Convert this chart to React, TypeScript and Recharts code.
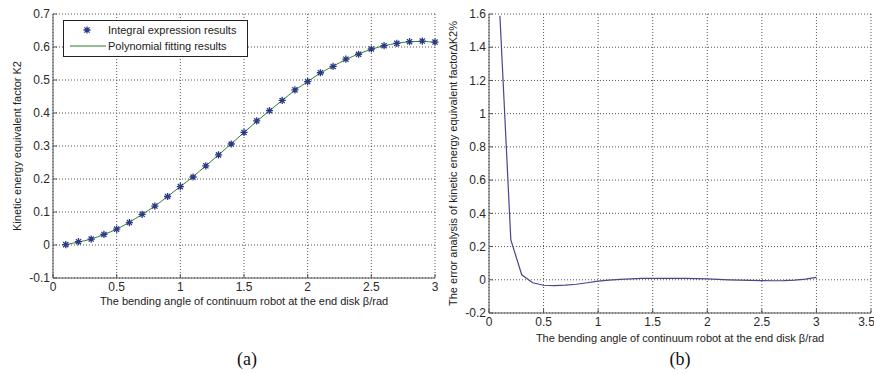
import { LineChart, Line, XAxis, YAxis, CartesianGrid, Legend } from 'recharts'

// bending angle samples (rad)
const beta = [
  0.1, 0.2, 0.3, 0.4, 0.5, 0.6, 0.7, 0.8, 0.9, 1.0,
  1.1, 1.2, 1.3, 1.4, 1.5, 1.6, 1.7, 1.8, 1.9, 2.0,
  2.1, 2.2, 2.3, 2.4, 2.5, 2.6, 2.7, 2.8, 2.9, 3.0,
]

// K2 from the integral expression
const k2Integral = [
  0.001, 0.01, 0.018, 0.032, 0.048, 0.068, 0.093, 0.118, 0.147, 0.177,
  0.206, 0.24, 0.273, 0.306, 0.341, 0.376, 0.407, 0.438, 0.47, 0.495,
  0.522, 0.541, 0.563, 0.578, 0.594, 0.604, 0.611, 0.616, 0.618, 0.615,
]

// K2 from the polynomial fit
const k2Fit = [
  0.001, 0.009, 0.018, 0.032, 0.048, 0.069, 0.093, 0.118, 0.147, 0.177,
  0.207, 0.24, 0.273, 0.307, 0.341, 0.375, 0.407, 0.438, 0.469, 0.495,
  0.521, 0.542, 0.562, 0.579, 0.593, 0.604, 0.611, 0.616, 0.617, 0.614,
]

// relative error of the fit, %
const k2Error = [
  1.59, 0.24, 0.03, -0.018, -0.033, -0.035, -0.032, -0.027, -0.018, -0.008,
  -0.002, 0.003, 0.006, 0.008, 0.009, 0.009, 0.009, 0.008, 0.007, 0.005,
  0.002, 0.0, -0.002, -0.004, -0.005, -0.006, -0.005, -0.002, 0.004, 0.015,
]

const xTicksA = [0, 0.5, 1, 1.5, 2, 2.5, 3]
const yTicksA = [-0.1, 0, 0.1, 0.2, 0.3, 0.4, 0.5, 0.6, 0.7]
const xTicksB = [0, 0.5, 1, 1.5, 2, 2.5, 3, 3.5]
const yTicksB = [-0.2, 0, 0.2, 0.4, 0.6, 0.8, 1, 1.2, 1.4, 1.6]

const xTitle = 'The bending angle of continuum robot at the end disk β/rad'
const yTitleA = 'Kinetic energy equivalent factor K2'
const yTitleB = 'The error analysis of kinetic energy equivalent factor∆K2%'

const rows = beta.map((b, i) => ({
  beta: b,
  integral: k2Integral[i],
  fit: k2Fit[i],
  error: k2Error[i],
}))

const FONT = '"Liberation Sans", Arial, sans-serif'
const FRAME = '#555'
const MARKER = '#2b3a86'
const FIT = '#2f7f2f'
const ERR = '#47478a'

const tickStyle = { fontSize: 12, fill: '#2a2a2a', fontFamily: FONT }
const fmt = (v: number) => String(parseFloat(v.toFixed(2)))

// MATLAB-style '*' marker
function Asterisk(props: any) {
  const { cx, cy, index } = props
  if (cx == null || cy == null) return null
  const r = 3.6
  const d = r * 0.72
  return (
    <path
      key={index}
      d={`M${cx},${cy - r}V${cy + r}M${cx - r},${cy}H${cx + r}M${cx - d},${cy - d}L${cx + d},${cy + d}M${cx - d},${cy + d}L${cx + d},${cy - d}`}
      stroke={MARKER}
      strokeWidth={1.3}
      fill="none"
    />
  )
}

const yTitle = (text: string, dx: number) => (p: any) => {
  const vb = p.viewBox
  const x = vb.x + dx
  const y = vb.y + vb.height / 2
  return (
    <text x={x} y={y} transform={`rotate(-90 ${x} ${y})`} textAnchor="middle" fontSize={11} fontFamily={FONT} fill="#222">
      {text}
    </text>
  )
}

const xTitleLabel = (dy: number) => (p: any) => {
  const vb = p.viewBox
  return (
    <text x={vb.x + vb.width / 2} y={vb.y + dy} textAnchor="middle" fontSize={11} fontFamily={FONT} fill="#222">
      {xTitle}
    </text>
  )
}

function LegendBox() {
  return (
    <svg width={185} height={37} style={{ display: 'block' }}>
      <rect x={0.5} y={0.5} width={184} height={36} fill="#fff" stroke="#222" />
      <Asterisk cx={24} cy={10} index="leg" />
      <line x1={7} y1={26} x2={43} y2={26} stroke={FIT} strokeWidth={1} />
      <text x={45} y={14} fontSize={11} fontFamily={FONT} fill="#222">Integral expression results</text>
      <text x={45} y={30} fontSize={11} fontFamily={FONT} fill="#222">Polynomial fitting results</text>
    </svg>
  )
}

function KineticFactorChart() {
  return (
    <LineChart width={440} height={374} data={rows} margin={{ top: 14, right: 5, bottom: 29, left: 0 }}>
      <CartesianGrid stroke={FRAME} strokeDasharray="1 2" />
      <XAxis
        dataKey="beta"
        type="number"
        domain={[0, 3]}
        ticks={xTicksA}
        tickFormatter={fmt}
        tick={tickStyle}
        tickSize={-4}
        tickMargin={8}
        height={30}
        stroke={FRAME}
        label={{ content: xTitleLabel(27) }}
      />
      {/* top and right axes close the box with inward ticks */}
      <XAxis xAxisId="top" orientation="top" type="number" domain={[0, 3]} ticks={xTicksA} tick={false} mirror tickSize={4} height={0} stroke={FRAME} />
      <YAxis
        type="number"
        domain={[-0.1, 0.7]}
        ticks={yTicksA}
        tickFormatter={fmt}
        tick={tickStyle}
        tickSize={-4}
        tickMargin={7}
        width={53}
        stroke={FRAME}
        label={{ content: yTitle(yTitleA, 21) }}
      />
      <YAxis yAxisId="right" orientation="right" type="number" domain={[-0.1, 0.7]} ticks={yTicksA} tick={false} mirror tickSize={4} width={0} stroke={FRAME} />
      <Line dataKey="fit" type="monotone" stroke={FIT} strokeWidth={1} dot={false} isAnimationActive={false} />
      <Line dataKey="integral" stroke="none" dot={Asterisk} activeDot={false} isAnimationActive={false} />
      <Legend content={LegendBox} wrapperStyle={{ top: 20, left: 63, width: 185, height: 37 }} />
    </LineChart>
  )
}

function ErrorChart() {
  return (
    <LineChart width={434} height={374} data={rows} margin={{ top: 14, right: 3, bottom: 31, left: 0 }}>
      <CartesianGrid stroke={FRAME} strokeDasharray="1 2" />
      <XAxis
        dataKey="beta"
        type="number"
        domain={[0, 3.5]}
        ticks={xTicksB}
        tickFormatter={fmt}
        tick={tickStyle}
        tickSize={-4}
        tickMargin={8}
        height={30}
        stroke={FRAME}
        label={{ content: xTitleLabel(29) }}
      />
      <XAxis xAxisId="top" orientation="top" type="number" domain={[0, 3.5]} ticks={xTicksB} tick={false} mirror tickSize={4} height={0} stroke={FRAME} />
      <YAxis
        type="number"
        domain={[-0.2, 1.6]}
        ticks={yTicksB}
        tickFormatter={fmt}
        tick={tickStyle}
        tickSize={-4}
        tickMargin={7}
        width={49}
        stroke={FRAME}
        label={{ content: yTitle(yTitleB, 17) }}
      />
      <YAxis yAxisId="right" orientation="right" type="number" domain={[-0.2, 1.6]} ticks={yTicksB} tick={false} mirror tickSize={4} width={0} stroke={FRAME} />
      <Line dataKey="error" type="linear" stroke={ERR} strokeWidth={1.2} dot={false} isAnimationActive={false} />
    </LineChart>
  )
}

const caption = { position: 'absolute' as const, top: 350, width: 40, textAlign: 'center' as const, fontFamily: '"Liberation Serif", serif', fontSize: 18, lineHeight: '18px', color: '#111' }

export default function App() {
  return (
    <div style={{ position: 'absolute', left: 0, top: 0, width: 874, height: 374, background: '#fff', overflow: 'hidden' }}>
      <div style={{ position: 'absolute', left: 0, top: 0 }}>
        <KineticFactorChart />
      </div>
      <div style={{ position: 'absolute', left: 440, top: 0 }}>
        <ErrorChart />
      </div>
      <div style={{ ...caption, left: 227 }}>(a)</div>
      <div style={{ ...caption, left: 660 }}>(b)</div>
    </div>
  )
}
